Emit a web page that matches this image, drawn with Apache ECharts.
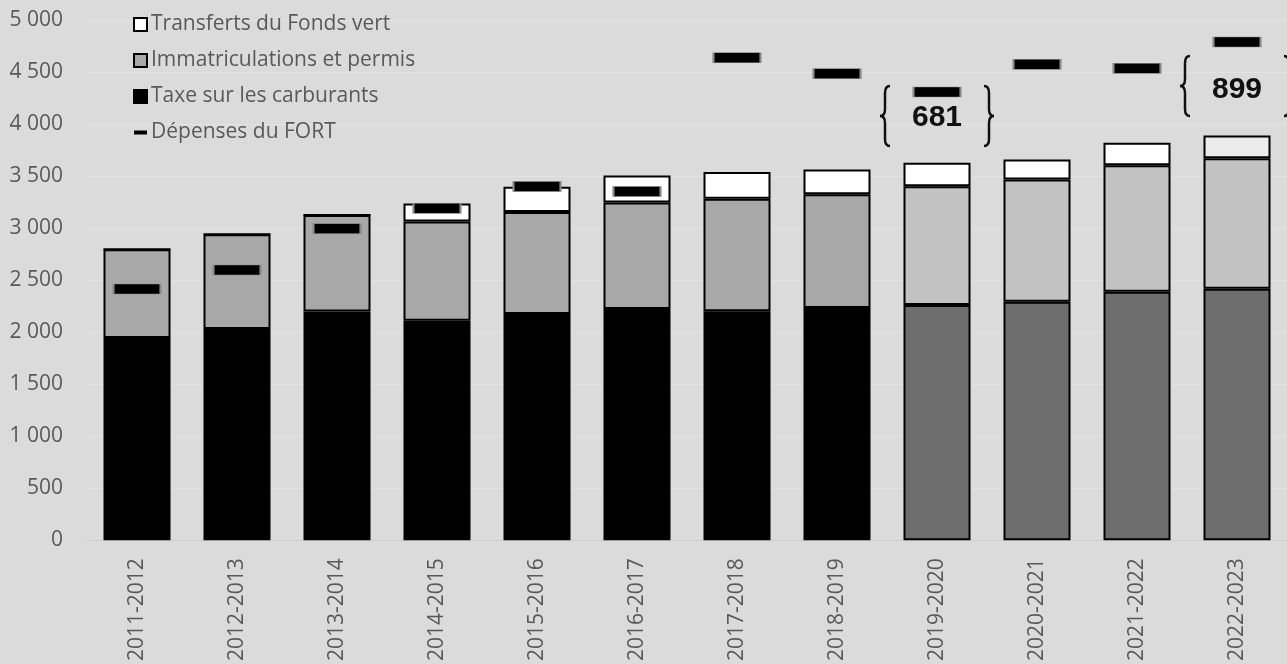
<!DOCTYPE html>
<html>
<head>
<meta charset="utf-8">
<title>FORT - revenus et dépenses</title>
<script src="https://cdn.jsdelivr.net/npm/echarts@6/dist/echarts.min.js"></script>
<style>
html, body { margin: 0; padding: 0; background: #dbdbdb; }
#main { width: 1287px; height: 664px; }
</style>
</head>
<body>
<div id="main"></div>
<script>
// données (M$)
var annees = ['2011-2012', '2012-2013', '2013-2014', '2014-2015', '2015-2016', '2016-2017',
	'2017-2018', '2018-2019', '2019-2020', '2020-2021', '2021-2022', '2022-2023'];
var taxeCarburants = [1944, 2031, 2197, 2110, 2174, 2222, 2200, 2232, 2261, 2292, 2388, 2417];
var immatriculations = [853, 910, 929, 952, 980, 1025, 1082, 1092, 1142, 1175, 1217, 1254];
var fondsVert = [0, 0, 0, 173, 243, 259, 256, 239, 224, 192, 214, 218];
var depensesFort = [2414, 2596, 2993, 3190, 3400, 3352, 4636, 4483, 4308, 4575, 4537, 4788];
var yTicks = [0, 500, 1000, 1500, 2000, 2500, 3000, 3500, 4000, 4500, 5000];
// écarts annotés
var ecartIndex = [8, 11];
var ecartTexte = ['681', '899'];

var premiereProjection = 8;

function projete(arr, colProj, colLast) {
	return arr.map(function(v, i) {
		if (i >= premiereProjection) {
			var c = (colLast && i == arr.length - 1) ? colLast : colProj;
			return { value: v, itemStyle: { color: c } };
		}
		return v;
	});
}

var myChart = echarts.init(document.getElementById('main'));
var txt = '#595959';
var police = 'Open Sans';

var option = {
	backgroundColor: '#dbdbdb',
	animation: false,
	textStyle: { fontFamily: police },
	grid: { left: 87, right: -6, top: 20, bottom: 122 },
	legend: {
		orient: 'vertical',
		left: 133,
		top: 14,
		padding: 0,
		itemWidth: 13,
		itemHeight: 13,
		itemGap: 15,
		textStyle: { color: txt, fontSize: 21, fontFamily: police, padding: [0, 0, 0, -1] },
		data: [
			{ name: 'Transferts du Fonds vert', icon: 'rect' },
			{ name: 'Immatriculations et permis', icon: 'rect' },
			{ name: 'Taxe sur les carburants', icon: 'rect' },
			{ name: 'Dépenses du FORT', icon: 'path://M0,0M13,13M0,4.5h13v4h-13z', itemStyle: { borderWidth: 0 } }
		]
	},
	xAxis: {
		type: 'category',
		data: annees,
		axisTick: { show: false },
		axisLine: { lineStyle: { color: '#cfcfcf' } },
		axisLabel: { rotate: 90, color: txt, fontSize: 21, margin: 18, fontFamily: police }
	},
	yAxis: {
		type: 'value',
		min: yTicks[0],
		max: yTicks[yTicks.length - 1],
		interval: 500,
		axisLine: { show: false },
		axisTick: { show: false },
		splitLine: { lineStyle: { color: '#e3e3e3', width: 1 } },
		axisLabel: {
			color: txt, fontSize: 21, margin: 24, fontFamily: police, padding: [3, 0, 0, 0],
			formatter: function(v) { return String(v).replace(/\B(?=(\d{3})+(?!\d))/g, ' '); }
		}
	},
	series: [
		{
			name: 'Taxe sur les carburants',
			type: 'bar',
			stack: 'rev',
			barWidth: 67,
			itemStyle: { color: '#000000', borderColor: '#000', borderWidth: 2 },
			data: projete(taxeCarburants, '#6e6e6e')
		},
		{
			name: 'Immatriculations et permis',
			type: 'bar',
			stack: 'rev',
			barWidth: 67,
			itemStyle: { color: '#a8a8a8', borderColor: '#000', borderWidth: 2 },
			data: projete(immatriculations, '#c2c2c2')
		},
		{
			name: 'Transferts du Fonds vert',
			type: 'bar',
			stack: 'rev',
			barWidth: 67,
			itemStyle: { color: '#ffffff', borderColor: '#000', borderWidth: 2 },
			data: projete(fondsVert, '#ffffff', '#ececec')
		},
		{
			name: 'Dépenses du FORT',
			type: 'scatter',
			symbol: 'rect',
			symbolSize: [47, 10],
			z: 5,
			itemStyle: { color: '#000', opacity: 1, borderColor: '#8a8a8a', borderWidth: 1 },
			data: depensesFort
		}
	]
};
myChart.setOption(option);

// accolades + écarts
function accolade(x, cy, sens) {
	// sens = 1 : accolade ouvrante, -1 : fermante
	var w = 5 * sens, st = { stroke: '#111', lineWidth: 2.5, fill: null };
	var parts = [
		{ type: 'bezierCurve', shape: { x1: x + w, y1: cy - 30, x2: x, y2: cy - 23, cpx1: x, cpy1: cy - 30 } },
		{ type: 'line', shape: { x1: x, y1: cy - 23, x2: x, y2: cy - 7 } },
		{ type: 'bezierCurve', shape: { x1: x, y1: cy - 7, x2: x - w, y2: cy, cpx1: x, cpy1: cy } },
		{ type: 'bezierCurve', shape: { x1: x - w, y1: cy, x2: x, y2: cy + 7, cpx1: x, cpy1: cy } },
		{ type: 'line', shape: { x1: x, y1: cy + 7, x2: x, y2: cy + 23 } },
		{ type: 'bezierCurve', shape: { x1: x, y1: cy + 23, x2: x + w, y2: cy + 30, cpx1: x, cpy1: cy + 30 } }
	];
	parts.forEach(function(p) { p.style = st; });
	return parts;
}

var decal = [[24, 26], [44, 48]];
var elems = [];
ecartIndex.forEach(function(idx, k) {
	var p = myChart.convertToPixel({ seriesIndex: 3 }, [idx, depensesFort[idx]]);
	var cx = p[0], cy = p[1] + decal[k][0], ty = p[1] + decal[k][1];
	elems = elems.concat(accolade(cx - 52, cy, 1), accolade(cx + 52, cy, -1));
	elems.push({
		type: 'text',
		x: cx, y: ty,
		style: {
			text: ecartTexte[k], fill: '#111', fontSize: 30, fontWeight: 'bold',
			fontFamily: 'Liberation Sans', align: 'center', verticalAlign: 'middle'
		}
	});
});
myChart.setOption({ graphic: elems });
</script>
</body>
</html>
